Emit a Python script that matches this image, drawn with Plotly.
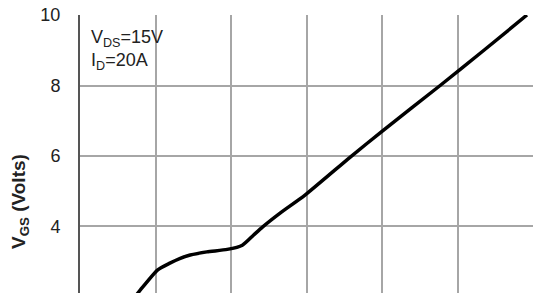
import plotly.graph_objects as go

# Gate charge curve (Qg in nC, VGS in V)
qg = [0, 4, 8, 10.3, 11.9, 13.2, 14.6, 16.8, 19.5, 21.5, 23.0, 24.2, 26.5, 29.8, 35.8, 40.0, 47.7, 53.5, 59.2]
vgs = [0, 1.1, 2.2, 2.77, 2.96, 3.09, 3.19, 3.28, 3.35, 3.47, 3.76, 3.99, 4.38, 4.89, 5.97, 6.7, 8.0, 9.0, 10.0]

y_ticks = [2, 4, 6, 8, 10]
x_ticks = [0, 10, 20, 30, 40, 50, 60]

fig = go.Figure()
fig.add_trace(go.Scatter(x=qg, y=vgs, mode="lines",
                         line=dict(color="black", width=3.5, shape="spline", smoothing=0.6),
                         hoverinfo="skip", showlegend=False))

fig.update_layout(
    width=533, height=293,
    margin=dict(l=80, r=0, t=15, b=0),
    paper_bgcolor="white", plot_bgcolor="white",
    font=dict(family="Liberation Sans, Arial, sans-serif", color="#222"),
    xaxis=dict(range=[0, 60], tickvals=x_ticks, showticklabels=False,
               showgrid=True, gridcolor="#a6a6a6", gridwidth=1.6,
               zeroline=False, showline=False),
    yaxis=dict(range=[2.113, 10], tickvals=y_ticks,
               showgrid=True, gridcolor="#a6a6a6", gridwidth=1.6,
               zeroline=False, showline=True, linecolor="#555", linewidth=2,
               ticks="outside", ticklen=14, tickcolor="rgba(0,0,0,0)",
               tickfont=dict(size=18, color="#222")),
    annotations=[
        dict(text="<b>V<sub>GS</sub> (Volts)</b>", textangle=-90,
             xref="paper", yref="y", x=-0.132, y=4.7,
             xanchor="center", yanchor="middle", showarrow=False,
             font=dict(size=19, color="#222")),
        dict(text="V<sub>DS</sub>=15V<br>I<sub>D</sub>=20A", align="left",
             xref="paper", yref="paper", x=0.02, y=0.965,
             xanchor="left", yanchor="top", showarrow=False,
             font=dict(size=18, color="#222")),
    ],
)

fig.write_html("out.html", config={"displayModeBar": False},
               post_script="document.body.style.margin='0';")
